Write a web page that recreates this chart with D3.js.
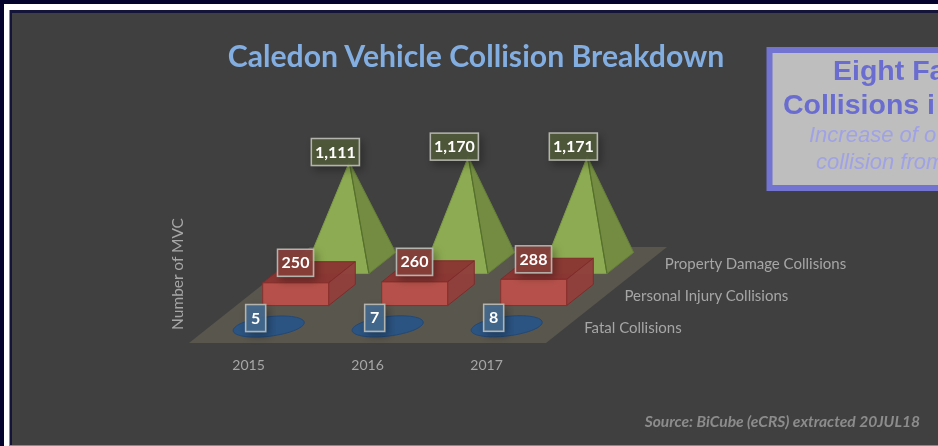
<!DOCTYPE html>
<html><head><meta charset="utf-8">
<script src="https://cdn.jsdelivr.net/npm/d3@7"></script>
<style>html,body{margin:0;padding:0;background:#03032e;overflow:hidden}svg{display:block;filter:blur(.4px)}</style>
</head><body><svg id="c" width="938" height="446"></svg>
<script>
const categories = ["2015","2016","2017"];
const seriesNames = ["Fatal Collisions","Personal Injury Collisions","Property Damage Collisions"];
const fatal = [5,7,8];
const injury = [250,260,288];
const property = [1111,1170,1171];
const titleText = "Caledon Vehicle Collision Breakdown";
const yAxisTitle = "Number of MVC";
const sourceText = "Source: BiCube (eCRS) extracted 20JUL18";
const noteBold = ["Eight Fa","Collisions i"];
const noteItalic = ["Increase of o","collision from"];

const svg = d3.select("#c");
const defs = svg.append("defs");
defs.append("filter").attr("id","glow").attr("x","-40%").attr("y","-40%").attr("width","190%").attr("height","190%")
  .append("feDropShadow").attr("dx",3).attr("dy",4).attr("stdDeviation",4).attr("flood-color","#000").attr("flood-opacity",.35);

// frame
svg.append("rect").attr("x",-5).attr("y",-5).attr("width",950).attr("height",460).attr("fill","#03032e");
svg.append("rect").attr("x",4).attr("y",4).attr("width",940).attr("height",450).attr("fill","#fff");
svg.append("rect").attr("x",9.5).attr("y",10).attr("width",940).attr("height",440).attr("fill","#14143a");
svg.append("rect").attr("x",12).attr("y",13).attr("width",940).attr("height",432).attr("fill","#404040");
svg.append("rect").attr("x",10).attr("y",445).attr("width",940).attr("height",6).attr("fill","#8a8a8a");

// floor scales: the floor is a sheared plane
const x = d3.scaleBand().domain(categories).range([189,546]);
const depth = d3.scaleBand().domain(seriesNames).range([343,247]);
const shear = d3.scaleLinear().domain([343,247]).range([0,121]);
const h = d3.scaleLinear().domain([0,1111]).range([0,101]);
const barHalf = x.bandwidth()*0.277;
const depthHalf = depth.bandwidth()*0.33;
const P = (cat,ser,du,dv,val=0)=>{
  const yd = depth(ser)+depth.bandwidth()/2 - dv;
  return [x(cat)+x.bandwidth()/2 + du + shear(yd), yd - h(val)];
};
const line = d3.line();
const poly = (g,pts,fill,stroke,op=1)=>g.append("path").attr("d",line(pts)+"Z")
  .attr("fill",fill).attr("fill-opacity",op).attr("stroke",stroke).attr("stroke-width",1).attr("stroke-linejoin","round");

const marks = svg.append("g");
// floor
poly(marks,[[x.range()[0],depth.range()[0]],[x.range()[1],depth.range()[0]],
  [x.range()[1]+shear(depth.range()[1]),depth.range()[1]],[x.range()[0]+shear(depth.range()[1]),depth.range()[1]]],
  "#59564e","none");

// pyramids
categories.forEach((c,i)=>{
  const s=seriesNames[2], top=P(c,s,0,0,property[i]);
  poly(marks,[P(c,s,-barHalf,-depthHalf),P(c,s,barHalf,-depthHalf),top],"#8dab52","#7f9d47");
  poly(marks,[P(c,s,barHalf,-depthHalf),P(c,s,barHalf,depthHalf),top],"#738c41","#657f37");
  marks.append("path").attr("d",line([P(c,s,barHalf,-depthHalf),top])).attr("stroke","#56702d").attr("stroke-width",1.2).attr("fill","none");
});
// boxes
categories.forEach((c,i)=>{
  const s=seriesNames[1], v=injury[i];
  poly(marks,[P(c,s,-barHalf,-depthHalf,v),P(c,s,barHalf,-depthHalf,v),P(c,s,barHalf,depthHalf,v),P(c,s,-barHalf,depthHalf,v)],"#8b3533","#7f2c2b",.97);
  poly(marks,[P(c,s,barHalf,-depthHalf),P(c,s,barHalf,depthHalf),P(c,s,barHalf,depthHalf,v),P(c,s,barHalf,-depthHalf,v)],"#913f3c","#7f2c2b",.97);
  poly(marks,[P(c,s,-barHalf,-depthHalf),P(c,s,barHalf,-depthHalf),P(c,s,barHalf,-depthHalf,v),P(c,s,-barHalf,-depthHalf,v)],"#b8514a","#8a2f2c",.97);
});
// discs: a circle on the sheared floor
const angles = d3.range(0,360,6);
categories.forEach((c,i)=>{
  const s=seriesNames[0];
  const pts=angles.map(a=>{const t=a*Math.PI/180;return P(c,s,barHalf*Math.cos(t),depthHalf*Math.sin(t),fatal[i]);});
  poly(marks,pts,"#2b5482","#234875");
});

// axes text
const text = (xx,yy,t,size,fill,extra={})=>{
  const el=svg.append("text").attr("x",xx).attr("y",yy).text(t)
    .attr("font-family","Lato, sans-serif").attr("font-size",size).attr("fill",fill);
  Object.entries(extra).forEach(([k,v])=>el.attr(k,v));
  return el;
};
const axisG = svg.append("g").attr("transform","translate(0,343)")
  .call(d3.axisBottom(x).tickSize(0).tickPadding(17));
axisG.select(".domain").remove();
axisG.selectAll("text").attr("font-family","Lato, sans-serif").attr("font-size",14).attr("fill","#a6a6a6");

seriesNames.forEach(s=>{
  const yd=depth(s)+depth.bandwidth()/2;
  text(x.range()[1]+shear(yd)+18,yd+6,s,15,"#a6a6a6");
});
svg.append("text").attr("transform","translate(183,274) rotate(-90)").attr("text-anchor","middle").text(yAxisTitle)
  .attr("font-family","Lato, sans-serif").attr("font-size",15.5).attr("fill","#a6a6a6");

text(476,67,titleText,30.2,"#83aee2",{"text-anchor":"middle","font-weight":700});
text(920,427,sourceText,15.6,"#8c8c8c",{"text-anchor":"end","font-weight":700,"font-style":"italic"});

// data labels
const labelGroups=[
 {s:seriesNames[0],vals:fatal,fill:"#456a8e",w:20,dx:-13,dy:-8.5},
 {s:seriesNames[1],vals:injury,fill:"#873d3a",w:36,dx:-13.5,dy:-9.5},
 {s:seriesNames[2],vals:property,fill:"#505a3a",w:48,dx:-14,dy:-10}
];
const fmt=d3.format(",");
labelGroups.forEach(g=>categories.forEach((c,i)=>{
  const [px,py]=P(c,g.s,0,0,g.vals[i]);
  const cx=px+g.dx, cy=py+g.dy;
  svg.append("rect").attr("x",cx-g.w/2).attr("y",cy-13.5).attr("width",g.w).attr("height",27)
    .attr("fill",g.fill).attr("fill-opacity",.88).attr("stroke","#b4b4ae").attr("stroke-width",1.5).attr("filter","url(#glow)");
  text(cx,cy+5.5,fmt(g.vals[i]),16,"#fff",{"text-anchor":"middle","font-weight":700});
}));

// note box, cut off by the window edge
svg.append("rect").attr("x",769.5).attr("y",50).attr("width",200).attr("height",138)
  .attr("fill","#bebebe").attr("stroke","#7373d2").attr("stroke-width",6);
const nf="'Liberation Sans', Arial, sans-serif";
[[833,80],[783,114]].forEach(([a,b],i)=>{
  svg.append("text").attr("x",a).attr("y",b).text(noteBold[i]).attr("font-family",nf).attr("font-weight",700).attr("font-size",28.5).attr("fill","#6a6dcf");
});
[[809,142],[816,169]].forEach(([a,b],i)=>{
  svg.append("text").attr("x",a).attr("y",b).text(noteItalic[i]).attr("font-family",nf).attr("font-style","italic").attr("font-size",22).attr("fill","#a0a2e6");
});
</script></body></html>
